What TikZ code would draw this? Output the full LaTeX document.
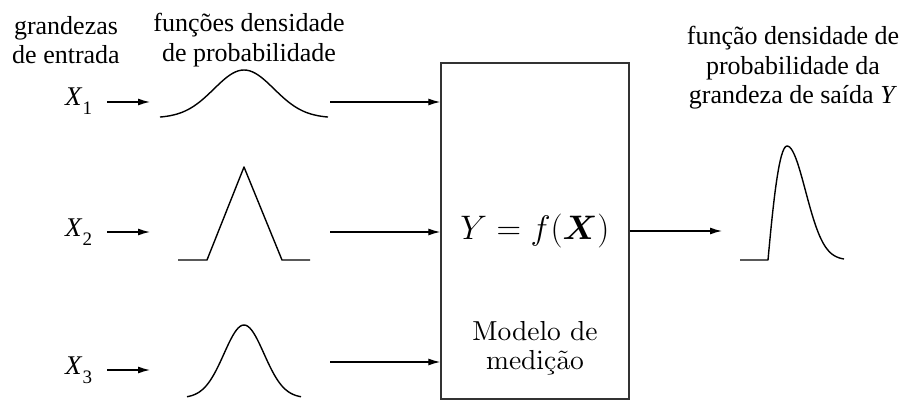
\RequirePackage{fix-cm}
\documentclass[tikz,border=0pt]{standalone}
\usepackage{amsmath}
\usepackage{fontspec}
\newfontfamily\timesfont{Liberation Serif}
\DeclareFontFamily{OT1}{cmten}{}
\DeclareFontShape{OT1}{cmten}{m}{n}{<->cmr10}{}
\newcommand{\cmtenfont}{\fontencoding{OT1}\fontfamily{cmten}\selectfont}
\usetikzlibrary{arrows.meta}

\tikzset{
  arr/.style={line width=1.3pt,-{Latex[length=12pt,width=7pt]}},
  pdf/.style={line width=1.4pt,line join=round},
  lbl/.style={align=center,font=\timesfont\fontsize{26}{29.5}\selectfont,inner sep=0pt},
  xin/.style={font=\timesfont\fontsize{27}{30}\selectfont,anchor=base west,inner sep=1pt},
}
\newcommand{\xsub}[1]{\textit{X}\raisebox{-9pt}{\fontsize{19}{19}\selectfont #1}}

\begin{document}
\begin{tikzpicture}[x=1pt,y=-1pt]
  \useasboundingbox (0,0) rectangle (905,401);
  % texts above
  \node[lbl] (entr) at (66,40) {grandezas\\de entrada};
  \node[lbl] (dens) at (249,40) {funções densidade\\de probabilidade};
  \node[lbl] (said) at (793,68)
    {função densidade de\\probabilidade da\\grandeza de saída \textit{Y}};
  % model
  \node[draw=black!80,line width=1.4pt,minimum width=188pt,minimum height=336pt] (box) at (535,231) {};
  \node[font=\fontsize{34}{40}\selectfont] (fx) at (535,231) {$Y=f(\boldsymbol{X})$};
  \node[align=center,font=\cmtenfont\fontsize{27.5}{29}\selectfont] (mod) at (535,348)
    {Modelo de\\medi\c{c}\~{a}o};
  % input quantities
  \node[xin] (x1) at (64,106) {\xsub{1}};
  \node[xin] (x2) at (64,236) {\xsub{2}};
  \node[xin] (x3) at (64,374) {\xsub{3}};
  \coordinate (a1) at (150,102);
  \coordinate (a2) at (150,232);
  \coordinate (a3) at (150,370);
  \draw[arr,shorten <=14pt] (x1.east |- a1) -- (a1);
  \draw[arr,shorten <=14pt] (x2.east |- a2) -- (a2);
  \draw[arr,shorten <=14pt] (x3.east |- a3) -- (a3);
  % pdfs
  \draw[pdf] plot[domain=-84:84,samples=61,smooth] ({244+\x},{118-48*exp(-((\x/30)^2)/2)});
  \draw[pdf] (178,260) -- (207,260) -- (244,167) -- (282,260) -- (310,260);
  \draw[pdf] plot[domain=-57:57,samples=61,smooth] ({244+\x},{398-73*exp(-((\x/20)^2)/2)});
  % into the model
  \coordinate (o1) at (330,102);
  \coordinate (o2) at (330,232);
  \coordinate (o3) at (330,362);
  \draw[arr] (o1) -- (o1 -| box.west);
  \draw[arr] (o2) -- (o2 -| box.west);
  \draw[arr] (o3) -- (o3 -| box.west);
  % output
  \coordinate (yin) at (722,231);
  \draw[arr] (box.east |- yin) -- (yin);
  \draw[pdf] (740,260) -- (768,260) .. controls (773,205) and (779,146) .. (787,146);
  \draw[pdf] plot[domain=0:57,samples=41,smooth] ({787+\x},{260-114*exp(-((\x/18.5)^2)/2)});
\end{tikzpicture}
\end{document}
